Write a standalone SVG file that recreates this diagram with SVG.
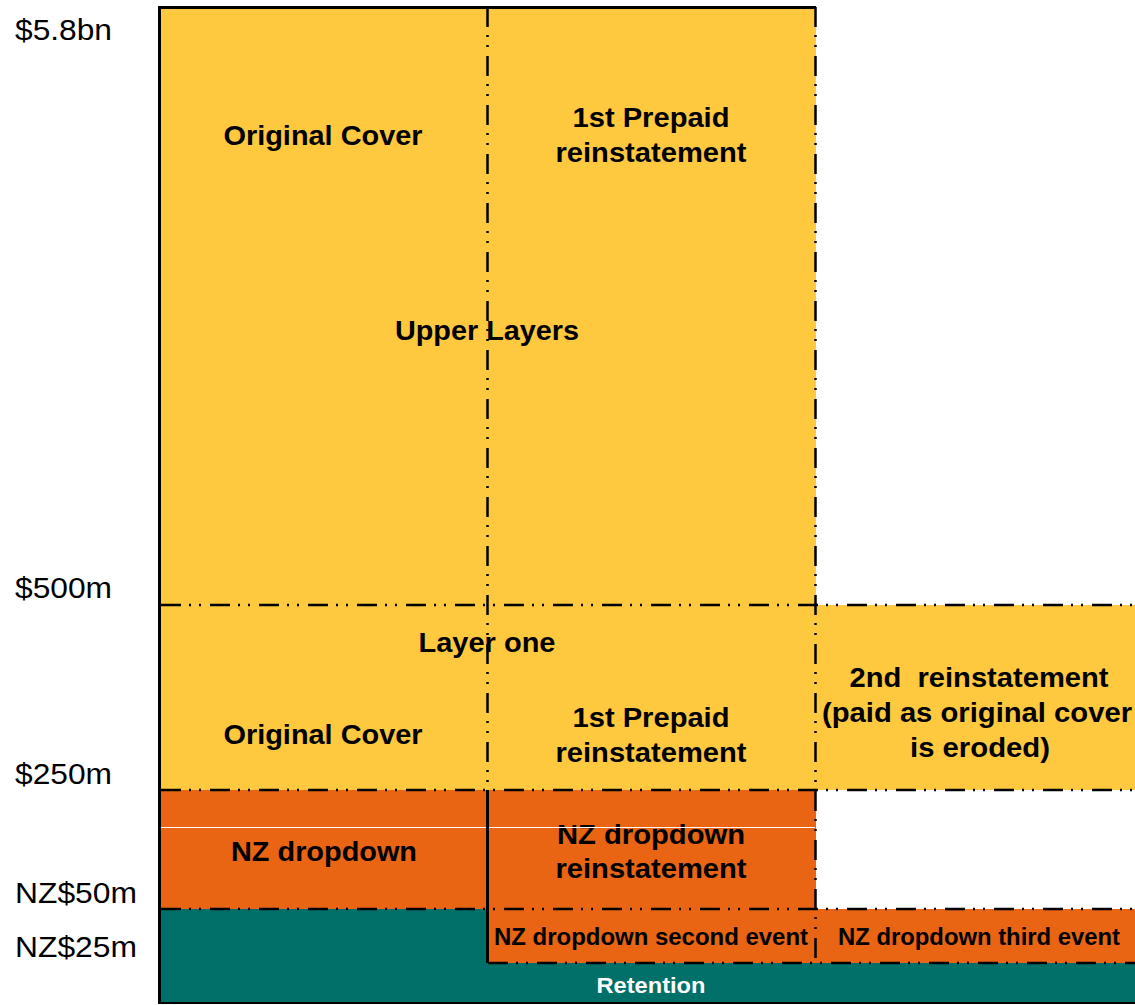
<svg xmlns="http://www.w3.org/2000/svg" width="1135" height="1005" viewBox="0 0 1135 1005">
<style>
.yel{fill:#FEC83F}
.org{fill:#E96413}
.teal{fill:#007068}
.axis{font-family:"Liberation Sans",Arial,sans-serif;font-size:29px;fill:#000}
.lbl{font-family:"Liberation Sans",Arial,sans-serif;font-size:27px;font-weight:bold;fill:#000;text-anchor:middle}
.sm{font-family:"Liberation Sans",Arial,sans-serif;font-size:23px;font-weight:bold;fill:#000;text-anchor:middle}
.ret{font-family:"Liberation Sans",Arial,sans-serif;font-size:22px;font-weight:bold;fill:#fff;text-anchor:middle}
.pre{white-space:pre}
.dd{stroke:#000;stroke-width:2.5;fill:none;stroke-dasharray:20 8 2 8 2 9}
.solid{stroke:#000;stroke-width:3;fill:none}
</style>
<rect width="1135" height="1005" fill="#fff"/>
<g id="axis">
<text class="axis" x="15" y="40" textLength="97" lengthAdjust="spacingAndGlyphs">$5.8bn</text>
<text class="axis" x="15" y="598" textLength="97" lengthAdjust="spacingAndGlyphs">$500m</text>
<text class="axis" x="15" y="784" textLength="97" lengthAdjust="spacingAndGlyphs">$250m</text>
<text class="axis" x="15" y="903" textLength="122" lengthAdjust="spacingAndGlyphs">NZ$50m</text>
<text class="axis" x="15" y="957" textLength="122" lengthAdjust="spacingAndGlyphs">NZ$25m</text>
</g>
<g id="upper-layers">
<rect class="yel" x="160" y="7" width="656" height="598"/>
<text class="lbl" x="487" y="340" textLength="184" lengthAdjust="spacingAndGlyphs">Upper Layers</text>
</g>
<g id="upper-original-cover">
<text class="lbl" x="323" y="145" textLength="199" lengthAdjust="spacingAndGlyphs">Original Cover</text>
</g>
<g id="upper-prepaid">
<text class="lbl" x="651" y="127" textLength="157" lengthAdjust="spacingAndGlyphs">1st Prepaid</text>
<text class="lbl" x="651" y="162" textLength="191" lengthAdjust="spacingAndGlyphs">reinstatement</text>
</g>
<g id="layer-one">
<rect class="yel" x="160" y="605" width="656" height="185"/>
<text class="lbl" x="487" y="652" textLength="137" lengthAdjust="spacingAndGlyphs">Layer one</text>
</g>
<g id="layer-one-original-cover">
<text class="lbl" x="323" y="744" textLength="199" lengthAdjust="spacingAndGlyphs">Original Cover</text>
</g>
<g id="layer-one-prepaid">
<text class="lbl" x="651" y="727" textLength="157" lengthAdjust="spacingAndGlyphs">1st Prepaid</text>
<text class="lbl" x="651" y="762" textLength="191" lengthAdjust="spacingAndGlyphs">reinstatement</text>
</g>
<g id="second-reinstatement">
<rect class="yel" x="816" y="605" width="319" height="185"/>
<text class="lbl pre" x="979" y="687" textLength="259" lengthAdjust="spacingAndGlyphs">2nd  reinstatement</text>
<text class="lbl" x="977" y="722" textLength="310" lengthAdjust="spacingAndGlyphs">(paid as original cover</text>
<text class="lbl" x="980" y="757" textLength="140" lengthAdjust="spacingAndGlyphs">is eroded)</text>
</g>
<g id="nz-dropdown">
<rect class="org" x="160" y="790" width="328" height="119"/>
<text class="lbl" x="324" y="861" textLength="186" lengthAdjust="spacingAndGlyphs">NZ dropdown</text>
</g>
<g id="nz-dropdown-reinstatement">
<rect class="org" x="488" y="790" width="328" height="119"/>
<text class="lbl" x="651" y="844" textLength="188" lengthAdjust="spacingAndGlyphs">NZ dropdown</text>
<text class="lbl" x="651" y="878" textLength="191" lengthAdjust="spacingAndGlyphs">reinstatement</text>
</g>
<line x1="161" y1="827.5" x2="815" y2="827.5" stroke="#fff" stroke-width="1"/>
<g id="retention">
<rect class="teal" x="160" y="909" width="328" height="94"/>
<rect class="teal" x="160" y="963" width="975" height="40"/>
<text class="ret" x="651" y="993" textLength="109" lengthAdjust="spacingAndGlyphs">Retention</text>
</g>
<g id="nz-second-event">
<rect class="org" x="488" y="909" width="328" height="54"/>
<text class="sm" x="651" y="945" textLength="314" lengthAdjust="spacingAndGlyphs">NZ dropdown second event</text>
</g>
<g id="nz-third-event">
<rect class="org" x="816" y="909" width="319" height="54"/>
<text class="sm" x="979" y="945" textLength="282" lengthAdjust="spacingAndGlyphs">NZ dropdown third event</text>
</g>
<g id="connectors">
<line class="dd" x1="487.5" y1="7" x2="487.5" y2="790"/>
<line class="solid" x1="487.5" y1="790" x2="487.5" y2="963"/>
<line class="dd" x1="815.5" y1="7" x2="815.5" y2="963"/>
<line class="dd" x1="161" y1="605" x2="1135" y2="605"/>
<line class="dd" x1="161" y1="790" x2="1135" y2="790"/>
<line class="dd" x1="161" y1="909" x2="1135" y2="909"/>
<line class="dd" x1="488" y1="963" x2="1135" y2="963"/>
<line class="solid" x1="158" y1="7.5" x2="816" y2="7.5"/>
<line class="solid" x1="159.5" y1="6" x2="159.5" y2="1004"/>
<line x1="158" y1="1003" x2="1135" y2="1003" stroke="#000" stroke-width="2"/>
</g>
</svg>
